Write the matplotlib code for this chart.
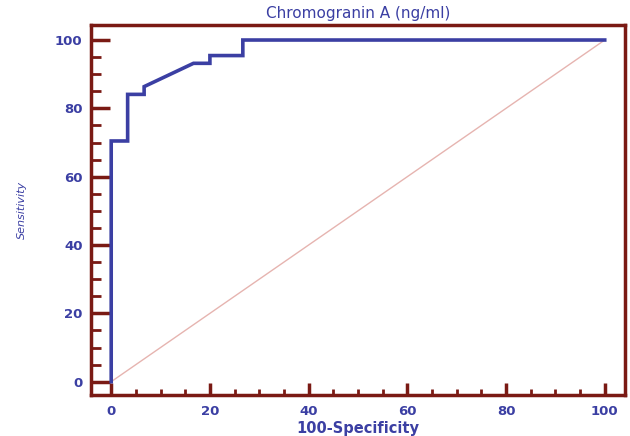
import matplotlib
matplotlib.use('Agg')
from matplotlib import pyplot as plt
from matplotlib.ticker import MultipleLocator

# ROC points
fpr = [0, 0, 3.33, 3.33, 6.67, 6.67, 16.67, 20.0, 20.0, 26.67, 26.67, 100]
tpr = [0, 70.45, 70.45, 84.09, 84.09, 86.36, 93.18, 93.18, 95.45, 95.45, 100, 100]
diag = [0, 100]

title = 'Chromogranin A (ng/ml)'
xlabel = '100-Specificity'
ylabel = 'Sensitivity'

red = '#7a1a14'
blue = '#3b3fa3'

plt.rcParams['font.family'] = ['DejaVu Sans']

fig = plt.figure(figsize=(6.3, 4.36), dpi=100)
ax = fig.add_axes([0.1444, 0.094, 0.8476, 0.8487])

ax.plot(diag, diag, color='#e6b4b0', lw=1)
ax.plot(fpr, tpr, color=blue, lw=2.6, solid_joinstyle='miter')

ax.set_xlim(-4.1, 104.1)
ax.set_ylim(-3.9, 104.4)

for s in ax.spines.values():
    s.set_color(red)
    s.set_linewidth(2.5)

ax.xaxis.set_major_locator(MultipleLocator(20))
ax.xaxis.set_minor_locator(MultipleLocator(5))
ax.yaxis.set_major_locator(MultipleLocator(20))
ax.yaxis.set_minor_locator(MultipleLocator(5))

ax.tick_params(axis='both', which='both', direction='in', color=red,
               labelcolor=blue, top=False, right=False)
ax.tick_params(axis='x', which='major', length=9, width=2.5, pad=7)
ax.tick_params(axis='x', which='minor', length=4, width=2)
ax.tick_params(axis='y', which='major', length=14, width=2.5, pad=6)
ax.tick_params(axis='y', which='minor', length=7, width=2)
for lab in ax.get_xticklabels() + ax.get_yticklabels():
    lab.set_fontsize(9.5)
    lab.set_fontweight('bold')

ax.set_title(title, color=blue, fontsize=11, pad=5)
ax.set_xlabel(xlabel, color=blue, fontsize=10.5, fontweight='bold', labelpad=2)
ax.set_ylabel(ylabel, color=blue, fontsize=8, style='italic', labelpad=20)

fig.savefig('out.png', dpi=100)
